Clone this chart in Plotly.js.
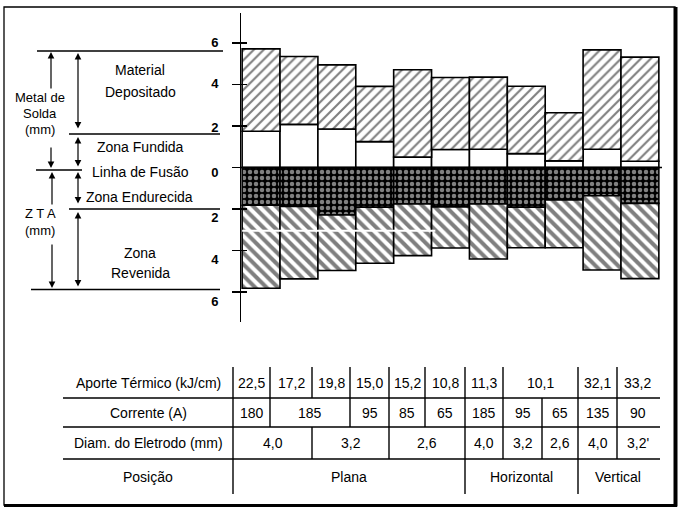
<!DOCTYPE html>
<html>
<head>
<meta charset="utf-8">
<script src="https://cdn.plot.ly/plotly-3.0.1.min.js"></script>
<style>html,body{margin:0;padding:0;background:#fff;}#chart{width:682px;height:510px;}</style>
</head>
<body>
<div id="chart"></div>
<script>
// ---- data (mm) ----
const totalMetal   = [5.72, 5.35, 4.95, 3.91, 4.71, 4.34, 4.36, 3.92, 2.64, 5.67, 5.32]; // top of deposited metal
const zonaFundida  = [1.75, 2.08, 1.86, 1.25, 0.50, 0.87, 0.88, 0.67, 0.32, 0.88, 0.30]; // fused zone height
const zonaEndurecida = [1.82, 1.88, 2.29, 1.92, 1.76, 1.90, 1.76, 1.92, 1.56, 1.36, 1.73]; // hardened zone depth
const ztaTotal     = [5.82, 5.37, 4.97, 4.62, 4.25, 3.88, 4.41, 3.87, 3.87, 4.94, 5.36]; // total HAZ depth

const yTickVals   = [6, 4, 2, 0, -2, -4, -6];
const yTickText   = ['6', '4', '2', '0', '2', '4', '6'];

const rowLabels = ['Aporte Térmico (kJ/cm)', 'Corrente (A)', 'Diam. do Eletrodo (mm)', 'Posição'];
const aporte      = ['22,5','17,2','19,8','15,0','15,2','10,8','11,3','10,1','32,1','33,2'];
const aporteSpan  = [1,1,1,1,1,1,1,2,1,1];
const corrente    = ['180','185','95','85','65','185','95','65','135','90'];
const correnteSpan= [1,2,1,1,1,1,1,1,1,1];
const diametro    = ['4,0','3,2','2,6','4,0','3,2','2,6','4,0',"3,2'"];
const diametroSpan= [2,2,2,1,1,1,1,1];
const posicao     = ['Plana','Horizontal','Vertical'];
const posicaoSpan = [6,3,2];

// ---- layout helpers (pixel -> paper) ----
const L = 241, R = 22, T = 13, B = 188, PW = 682 - L - R, PH = 510 - T - B;
const PX = x => (x - L) / PW;
const PY = y => (510 - B - y) / PH;
const FONT = 'Liberation Sans, Arial, Helvetica, sans-serif';

const xs = totalMetal.map((_, i) => i);
const material = totalMetal.map((v, i) => v - zonaFundida[i]);
const endNeg = zonaEndurecida.map(v => -v);
const revenida = ztaTotal.map((v, i) => -(v - zonaEndurecida[i]));

const outline = {color: 'black', width: 1.6};
const traces = [
  {type: 'bar', x: xs, y: zonaFundida, base: 0, width: 1,
   marker: {color: 'white', line: outline}, hoverinfo: 'skip'},
  {type: 'bar', x: xs, y: material, base: zonaFundida, width: 1,
   marker: {color: 'white', line: outline,
            pattern: {shape: '/', fgcolor: 'black', bgcolor: 'white', size: 7, solidity: 0.3, fillmode: 'overlay'}},
   hoverinfo: 'skip'},
  {type: 'bar', x: xs, y: endNeg, base: 0, width: 1,
   marker: {color: 'black', line: outline,
            pattern: {shape: '.', fgcolor: 'white', size: 6, solidity: 0.45, fillmode: 'overlay'}},
   hoverinfo: 'skip'},
  {type: 'bar', x: xs, y: revenida, base: endNeg, width: 1,
   marker: {color: 'white', line: outline,
            pattern: {shape: '\\', fgcolor: 'black', bgcolor: 'white', size: 8, solidity: 0.5, fillmode: 'overlay'}},
   hoverinfo: 'skip'}
];

const shapes = [];
const annotations = [];
function hline(y, x1, x2, w) {
  shapes.push({type: 'line', xref: 'paper', yref: 'paper', x0: PX(x1), x1: PX(x2), y0: PY(y), y1: PY(y),
               line: {color: 'black', width: w || 1.4}});
}
function vline(x, y1, y2, w) {
  shapes.push({type: 'line', xref: 'paper', yref: 'paper', x0: PX(x), x1: PX(x), y0: PY(y1), y1: PY(y2),
               line: {color: 'black', width: w || 1.4}});
}
function txt(t, cx, cy, size, bold) {
  annotations.push({text: bold ? '<b>' + t + '</b>' : t, xref: 'paper', yref: 'paper', x: PX(cx), y: PY(cy),
                    xanchor: 'center', yanchor: 'middle', showarrow: false,
                    font: {family: FONT, size: size, color: 'black'}});
}
function arrow(x, yHead, yTail, both) {
  annotations.push({text: '', xref: 'paper', yref: 'paper', x: PX(x), y: PY(yHead), ax: 0, ay: yTail - yHead,
                    showarrow: true, arrowhead: 2, arrowsize: 1.1, arrowwidth: 1.2, arrowcolor: 'black',
                    arrowside: both ? 'end+start' : 'end', standoff: 0, startstandoff: 0,
                    startarrowhead: 2, startarrowsize: 1.1});
}

// frame
shapes.push({type: 'rect', xref: 'paper', yref: 'paper', x0: PX(4), x1: PX(675), y0: PY(7), y1: PY(505),
             line: {color: 'black', width: 1.3}});
vline(675.5, 7, 506.5, 4);
hline(505.5, 4, 677, 3);

// zero line across chart
shapes.push({type: 'line', xref: 'paper', yref: 'y', x0: 0, x1: PX(662), y0: 0, y1: 0,
             line: {color: 'black', width: 1.5}});
// scan artifact white line
shapes.push({type: 'line', xref: 'x', yref: 'y', x0: -0.5, x1: 4.6, y0: -3.05, y1: -3.05,
             line: {color: 'white', width: 2}});

// left annotation lines
hline(51, 37, 223);
hline(134, 69, 220);
hline(170, 36, 82);
hline(209, 69, 220);
hline(289.5, 31, 220);
// arrows
arrow(51, 52, 90, false);
arrow(51, 168, 146, false);
arrow(78, 53, 130, true);
arrow(78, 137, 168, true);
arrow(52, 172, 206, false);
arrow(52, 288, 243, false);
arrow(78, 172, 205, true);
arrow(78, 212, 288, true);
// left texts
txt('Material', 140, 70, 14);
txt('Depositado', 140, 92, 14);
txt('Metal de', 40, 98, 13);
txt('Solda', 40, 113, 13);
txt('(mm)', 40, 129, 13);
txt('Zona Fundida', 140, 147, 14);
txt('Linha de Fusão', 140, 172, 14);
txt('Zona Endurecida', 139, 197, 14);
txt('Z T A', 40, 213, 13);
txt('(mm)', 40, 230, 13);
txt('Zona', 140, 253, 14);
txt('Revenida', 140, 273, 14);

// table
const colEdges = [233, 270, 312, 350, 389, 425, 465, 503, 542, 578, 617, 658];
const rowEdges = [367, 398, 427, 459, 494];
const rows = [[aporte, aporteSpan], [corrente, correnteSpan], [diametro, diametroSpan], [posicao, posicaoSpan]];
hline(398, 63, 660);
hline(427, 63, 660);
hline(459, 63, 660);
vline(233, 367, 494);
rows.forEach((r, ri) => {
  const [vals, spans] = r;
  const yT = rowEdges[ri], yB = rowEdges[ri + 1], yc = (yT + yB) / 2;
  txt(rowLabels[ri], 148, yc, 14);
  let c = 0;
  vals.forEach((v, k) => {
    const x1 = colEdges[c], x2 = colEdges[c + spans[k]];
    txt(v, (x1 + x2) / 2, yc, 14);
    c += spans[k];
    if (c < colEdges.length - 1) vline(colEdges[c], yT, yB);
  });
});

const layout = {
  width: 682, height: 510,
  margin: {l: L, r: R, t: T, b: B, pad: 0},
  paper_bgcolor: 'white', plot_bgcolor: 'white',
  showlegend: false, barmode: 'overlay', bargap: 0,
  xaxis: {visible: false, range: [-0.53, 10.53], fixedrange: true},
  yaxis: {range: [-7.45, 7.45], showgrid: false, zeroline: false, showline: true, linecolor: 'black', linewidth: 1.5,
          tickvals: yTickVals, ticks: 'outside', ticklen: 8, tickwidth: 1.5, tickcolor: 'black',
          showticklabels: false, fixedrange: true},
  yaxis2: {overlaying: 'y', side: 'left', range: [-7.45, 7.45], showgrid: false, zeroline: false, showline: false,
           tickvals: [6.03, 4.06, 1.94, -0.26, -2.43, -4.45, -6.47], ticktext: yTickText,
           ticks: 'outside', ticklen: 19, tickcolor: 'rgba(0,0,0,0)',
           tickfont: {family: FONT, size: 13, color: 'black', weight: 'bold'}, fixedrange: true},
  yaxis3: {overlaying: 'y', side: 'left', range: [-7.45, 7.45], showgrid: false, zeroline: false, showline: false,
           tickvals: yTickVals, ticks: 'inside', ticklen: 6, tickwidth: 1.5, tickcolor: 'black',
           showticklabels: false, fixedrange: true},
  shapes: shapes,
  annotations: annotations
};
// dummy traces to activate the overlay axes
traces.push({type: 'scatter', x: [0], y: [0], yaxis: 'y2', mode: 'markers', marker: {opacity: 0}, hoverinfo: 'skip'});
traces.push({type: 'scatter', x: [0], y: [0], yaxis: 'y3', mode: 'markers', marker: {opacity: 0}, hoverinfo: 'skip'});

Plotly.newPlot('chart', traces, layout, {staticPlot: true, displayModeBar: false});
</script>
</body>
</html>
